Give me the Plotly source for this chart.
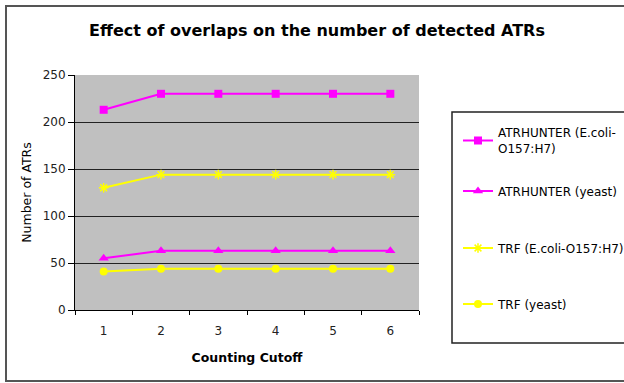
import plotly.graph_objects as go

# Counting cutoff categories and detected ATR counts per method/organism
cutoffs = ["1", "2", "3", "4", "5", "6"]
atrhunter_ecoli = [213, 230, 230, 230, 230, 230]
atrhunter_yeast = [55, 63, 63, 63, 63, 63]
trf_ecoli = [130, 144, 144, 144, 144, 144]
trf_yeast = [41, 44, 44, 44, 44, 44]

series_names = [
    "ATRHUNTER (E.coli-<br>O157:H7)",
    "ATRHUNTER (yeast)",
    "TRF (E.coli-O157:H7)",
    "TRF (yeast)",
]

W, H = 624, 383
L, R, T, B = 75, 205, 75, 73
PW, PH = W - L - R, H - T - B
FONT = "DejaVu Sans, Verdana, sans-serif"


def px(x):
    return (x - L) / PW


def py(y):
    return (H - B - y) / PH


MAGENTA = "#FF00FF"
YELLOW = "#FFFF00"

# each series gets its own legend box so entries can be spaced freely
legend_ids = ["legend", "legend2", "legend3", "legend4"]
legend_centres = [141, 191, 248, 304]

fig = go.Figure()
styles = [
    (atrhunter_ecoli, MAGENTA, "square", 8),
    (atrhunter_yeast, MAGENTA, "triangle-up", 9),
    (trf_ecoli, YELLOW, "asterisk-open", 8),
    (trf_yeast, YELLOW, "circle", 8),
]
for i, (vals, col, sym, size) in enumerate(styles):
    marker = dict(symbol=sym, size=size, color=col)
    if sym == "asterisk-open":
        marker["line"] = dict(color=col, width=1.5)
    fig.add_trace(go.Scatter(
        x=cutoffs, y=vals, name=series_names[i], mode="lines+markers",
        line=dict(color=col, width=2), marker=marker,
        legend=legend_ids[i],
    ))

shapes = [
    # outer chart frame
    dict(type="rect", xref="paper", yref="paper",
         x0=px(6), x1=px(640), y0=py(381), y1=py(6),
         line=dict(color="#555555", width=2), layer="below"),
    # legend frame
    dict(type="rect", xref="paper", yref="paper",
         x0=px(452), x1=px(640), y0=py(343), y1=py(112),
         line=dict(color="#222222", width=1.5)),
]

legend_layout = {}
for lid, yc in zip(legend_ids, legend_centres):
    legend_layout[lid] = dict(
        x=px(458), xanchor="left", y=py(yc), yanchor="middle",
        bgcolor="rgba(0,0,0,0)", borderwidth=0, font=dict(size=12),
    )

fig.update_layout(
    width=W, height=H,
    margin=dict(l=L, r=R, t=T, b=B, autoexpand=False),
    paper_bgcolor="white",
    plot_bgcolor="#C0C0C0",
    font=dict(family=FONT, color="black", size=12),
    title=dict(text="<b>Effect of overlaps on the number of detected ATRs</b>",
               xref="container", x=317 / W, xanchor="center",
               yref="container", y=1 - 30 / H, yanchor="middle",
               font=dict(size=16)),
    showlegend=True,
    xaxis=dict(
        type="category", tickson="boundaries", range=[-0.5, 5.5],
        showgrid=False, showline=True, linecolor="black", linewidth=1,
        ticks="outside", ticklen=4, tickcolor="black",
        ticklabelstandoff=10,
        tickfont=dict(size=12, color="#222222"),
        title=dict(text="<b>Counting Cutoff</b>", font=dict(size=12.5), standoff=15),
        mirror=False,
    ),
    yaxis=dict(
        range=[0, 250], dtick=50, showgrid=True, gridcolor="#222222", gridwidth=1,
        showline=True, linecolor="black", linewidth=1, zeroline=False,
        ticks="outside", ticklen=6, tickcolor="black",
        tickfont=dict(size=12, color="#222222"),
        title=dict(text="Number of ATRs", font=dict(size=12.5), standoff=8),
    ),
    shapes=shapes,
    **legend_layout,
)

fig.write_html("out.html")
